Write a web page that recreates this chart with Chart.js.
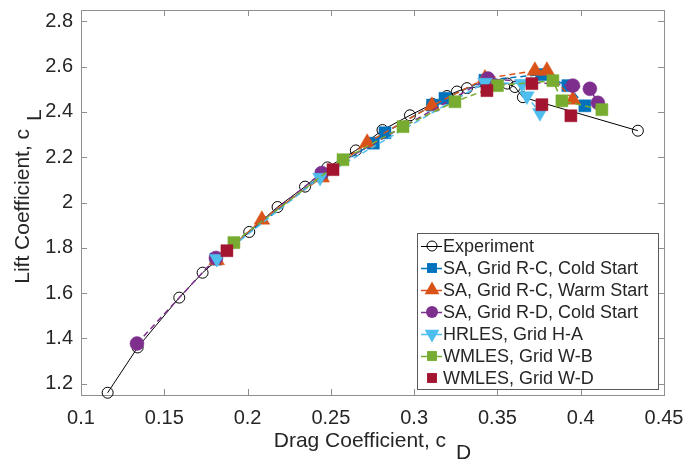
<!DOCTYPE html>
<html>
<head>
<meta charset="utf-8">
<script src="https://cdn.jsdelivr.net/npm/chart.js@4.4.0/dist/chart.umd.min.js"></script>
<style>
    html, body { margin: 0; padding: 0; background: #fff; }
    #wrap { width: 683px; height: 461px; }
</style>
</head>
<body>
<div id="wrap"><canvas id="chart" width="683" height="461"></canvas></div>
<script>
    'use strict';

    // axis ticks
    var xTicks = [0.1, 0.15, 0.2, 0.25, 0.3, 0.35, 0.4, 0.45];
    var xTickLabels = ['0.1', '0.15', '0.2', '0.25', '0.3', '0.35', '0.4', '0.45'];
    var yTicks = [1.2, 1.4, 1.6, 1.8, 2.0, 2.2, 2.4, 2.6, 2.8];
    var yTickLabels = ['1.2', '1.4', '1.6', '1.8', '2', '2.2', '2.4', '2.6', '2.8'];

    var seriesNames = [
        'Experiment',
        'SA, Grid R-C, Cold Start',
        'SA, Grid R-C, Warm Start',
        'SA, Grid R-D, Cold Start',
        'HRLES, Grid H-A',
        'WMLES, Grid W-B',
        'WMLES, Grid W-D'
    ];

    // drag (cD) / lift (cL) per series
    var expCd = [0.116, 0.134, 0.159, 0.173, 0.201, 0.218, 0.2345, 0.248, 0.265, 0.281, 0.2975, 0.311, 0.3197, 0.3257, 0.3317, 0.356, 0.3605, 0.3653, 0.4343];
    var expCl = [1.16, 1.36, 1.58, 1.69, 1.87, 1.98, 2.07, 2.155, 2.23, 2.32, 2.385, 2.435, 2.47, 2.49, 2.505, 2.525, 2.51, 2.465, 2.317];

    var rcColdCd = [0.181, 0.2445, 0.2755, 0.2825, 0.311, 0.3185, 0.3425, 0.3765, 0.3923, 0.4025];
    var rcColdCl = [1.75, 2.12, 2.262, 2.308, 2.43, 2.46, 2.54, 2.565, 2.516, 2.427];

    var rcWarmCd = [0.1815, 0.2086, 0.2445, 0.2718, 0.3107, 0.3425, 0.3725, 0.3797, 0.3953];
    var rcWarmCl = [1.745, 1.924, 2.11, 2.264, 2.427, 2.547, 2.582, 2.582, 2.454];

    var rdColdCd = [0.1336, 0.181, 0.2445, 0.3443, 0.3953, 0.4055, 0.4103];
    var rdColdCl = [1.377, 1.755, 2.13, 2.547, 2.516, 2.502, 2.44];

    var hrlesCd = [0.1816, 0.2435, 0.3425, 0.3647, 0.3677, 0.3755];
    var hrlesCl = [1.752, 2.11, 2.53, 2.525, 2.47, 2.396];

    var wmlesBCd = [0.1918, 0.2573, 0.2933, 0.3245, 0.350, 0.3833, 0.3887, 0.4127];
    var wmlesBCl = [1.823, 2.189, 2.335, 2.445, 2.516, 2.538, 2.449, 2.41];

    var wmlesDCd = [0.1876, 0.2513, 0.3437, 0.3707, 0.3767, 0.3941];
    var wmlesDCl = [1.787, 2.145, 2.494, 2.525, 2.432, 2.383];

    var TEXT_DARK = '#262626';
    var AXIS_GRAY = '#8f8f8f';
    var FONT = "'Liberation Sans', Arial, Helvetica, sans-serif";

    // marker / line look for each series (same order as seriesNames)
    var styles = [
        { color: '#000000', marker: 'circle', radius: 5.5, filled: false, line: 'solid', order: 7 },
        { color: '#0072BD', marker: 'rect', radius: 8.5, filled: true, line: 'dash', order: 6 },
        { color: '#D95319', marker: 'triangle', radius: 9, filled: true, line: 'dash', order: 5 },
        { color: '#7E2F8E', marker: 'circle', radius: 7, filled: true, line: 'dash', order: 4 },
        { color: '#4DBEEE', marker: 'triangleDown', radius: 8.5, filled: true, line: 'dash', order: 3 },
        { color: '#77AC30', marker: 'rect', radius: 8.5, filled: true, line: 'dash', order: 2 },
        { color: '#A2142F', marker: 'rect', radius: 8.5, filled: true, line: 'none', order: 1 }
    ];

    function toPoints(cd, cl) {
        return cd.map(function (v, i) { return { x: v, y: cl[i] }; });
    }

    var seriesData = [
        toPoints(expCd, expCl),
        toPoints(rcColdCd, rcColdCl),
        toPoints(rcWarmCd, rcWarmCl),
        toPoints(rdColdCd, rdColdCl),
        toPoints(hrlesCd, hrlesCl),
        toPoints(wmlesBCd, wmlesBCl),
        toPoints(wmlesDCd, wmlesDCl)
    ];

    var datasets = seriesData.map(function (pts, i) {
        var st = styles[i];
        return {
            label: seriesNames[i],
            data: pts,
            order: st.order,
            showLine: st.line !== 'none',
            borderColor: st.color,
            borderWidth: st.line === 'solid' ? 1 : 1.5,
            borderDash: st.line === 'dash' ? [6, 4] : [],
            pointStyle: st.marker === 'triangleDown' ? 'triangle' : st.marker,
            rotation: st.marker === 'triangleDown' ? 180 : 0,
            pointRadius: st.radius,
            pointBackgroundColor: st.filled ? st.color : 'rgba(0,0,0,0)',
            pointBorderColor: st.color,
            pointBorderWidth: st.filled ? 0.5 : 1,
            clip: false
        };
    });

    /**
     * Draws one marker shape, for the legend
     */
    function drawMarker(ctx, st, x, y, r) {
        ctx.beginPath();
        if (st.marker === 'circle') {
            ctx.arc(x, y, r, 0, Math.PI * 2);
        } else if (st.marker === 'rect') {
            var s = r * Math.SQRT1_2;
            ctx.rect(x - s, y - s, 2 * s, 2 * s);
        } else {
            var a = st.marker === 'triangle' ? 0 : Math.PI;
            for (var k = 0; k < 3; k++) {
                var px = x + Math.sin(a) * r;
                var py = y - Math.cos(a) * r;
                if (k === 0) { ctx.moveTo(px, py); } else { ctx.lineTo(px, py); }
                a += 2 * Math.PI / 3;
            }
            ctx.closePath();
        }
        if (st.filled) {
            ctx.fillStyle = st.color;
            ctx.fill();
        } else {
            ctx.lineWidth = 1;
            ctx.strokeStyle = st.color;
            ctx.stroke();
        }
    }

    var frameTitlesLegend = {
        id: 'frameTitlesLegend',

        beforeDatasetsDraw: function (chart) {
            var ctx = chart.ctx;
            var a = chart.chartArea;
            var xs = chart.scales.x;
            var ys = chart.scales.y;
            ctx.save();
            ctx.strokeStyle = AXIS_GRAY;
            ctx.lineWidth = 1;
            ctx.strokeRect(Math.round(a.left) + 0.5, Math.round(a.top) + 0.5,
                Math.round(a.right - a.left), Math.round(a.bottom - a.top));
            ctx.beginPath();
            xTicks.forEach(function (v) {
                var px = Math.round(xs.getPixelForValue(v)) + 0.5;
                ctx.moveTo(px, a.bottom);
                ctx.lineTo(px, a.bottom - 6);
                ctx.moveTo(px, a.top);
                ctx.lineTo(px, a.top + 6);
            });
            yTicks.forEach(function (v) {
                var py = Math.round(ys.getPixelForValue(v)) + 0.5;
                ctx.moveTo(a.left, py);
                ctx.lineTo(a.left + 6, py);
                ctx.moveTo(a.right, py);
                ctx.lineTo(a.right - 6, py);
            });
            ctx.stroke();
            ctx.restore();
        },

        afterDraw: function (chart) {
            var ctx = chart.ctx;
            var a = chart.chartArea;
            ctx.save();
            ctx.fillStyle = TEXT_DARK;
            ctx.textBaseline = 'alphabetic';
            ctx.textAlign = 'left';

            // x title with subscript
            ctx.font = '21px ' + FONT;
            var xMain = 'Drag Coefficient, c';
            var wMain = ctx.measureText(xMain).width;
            var wSub = ctx.measureText('D').width;
            var total = wMain + 10 + wSub;
            var x0 = (a.left + a.right) / 2 - total / 2;
            ctx.fillText(xMain, x0, 447);
            ctx.fillText('D', x0 + wMain + 10, 459);

            // y title, rotated
            var yMain = 'Lift Coefficient, c';
            wMain = ctx.measureText(yMain).width;
            wSub = ctx.measureText('L').width;
            total = wMain + 8 + wSub;
            ctx.save();
            ctx.translate(29, (a.top + a.bottom) / 2 + total / 2 - 6);
            ctx.rotate(-Math.PI / 2);
            ctx.fillText(yMain, 0, 0);
            ctx.fillText('L', wMain + 8, 12);
            ctx.restore();

            // legend box
            var lx = 417, ly = 233, lw = 241, lh = 156;
            ctx.fillStyle = '#ffffff';
            ctx.fillRect(lx, ly, lw, lh);
            ctx.strokeStyle = '#5a5a5a';
            ctx.lineWidth = 1;
            ctx.strokeRect(lx + 0.5, ly + 0.5, lw, lh);

            ctx.font = '18px ' + FONT;
            ctx.textBaseline = 'middle';
            seriesNames.forEach(function (name, i) {
                var st = styles[i];
                var cy = 246 + i * 22;
                if (st.line !== 'none') {
                    ctx.strokeStyle = st.color;
                    ctx.lineWidth = st.line === 'solid' ? 1 : 1.5;
                    ctx.beginPath();
                    ctx.moveTo(421, cy + 0.5);
                    ctx.lineTo(442, cy + 0.5);
                    ctx.stroke();
                }
                var r = st.marker === 'circle' ? (st.filled ? 6 : 5) :
                    (st.marker === 'rect' ? 7 : 8.5);
                drawMarker(ctx, st, 432, cy, r);
                ctx.fillStyle = TEXT_DARK;
                ctx.fillText(name, 443, cy + 1);
            });
            ctx.restore();
        }
    };

    Chart.defaults.font.family = FONT;
    Chart.defaults.color = TEXT_DARK;

    var config = {
        type: 'scatter',
        data: { datasets: datasets },
        options: {
            responsive: false,
            animation: false,
            devicePixelRatio: 1,
            layout: { padding: { top: 10, right: 19, left: 0, bottom: 0 } },
            plugins: {
                legend: { display: false },
                tooltip: { enabled: false }
            },
            scales: {
                x: {
                    type: 'linear',
                    position: 'bottom',
                    min: 0.1,
                    max: 0.45,
                    grid: { display: false, drawTicks: false },
                    border: { display: false },
                    afterBuildTicks: function (s) {
                        s.ticks = xTicks.map(function (v) { return { value: v }; });
                    },
                    afterFit: function (s) {
                        s.height = 66;
                        s.paddingLeft = 0;
                        s.paddingRight = 0;
                    },
                    ticks: {
                        padding: 11,
                        autoSkip: false,
                        maxRotation: 0,
                        color: TEXT_DARK,
                        font: { size: 20 },
                        callback: function (v, i) { return xTickLabels[i]; }
                    }
                },
                y: {
                    type: 'linear',
                    position: 'left',
                    min: 1.15,
                    max: 2.85,
                    grid: { display: false, drawTicks: false },
                    border: { display: false },
                    afterBuildTicks: function (s) {
                        s.ticks = yTicks.map(function (v) { return { value: v }; });
                    },
                    afterFit: function (s) {
                        s.width = 81;
                        s.paddingTop = 0;
                        s.paddingBottom = 0;
                    },
                    ticks: {
                        padding: 8,
                        autoSkip: false,
                        color: TEXT_DARK,
                        font: { size: 20 },
                        callback: function (v, i) { return yTickLabels[i]; }
                    }
                }
            }
        },
        plugins: [frameTitlesLegend]
    };

    new Chart(document.getElementById('chart').getContext('2d'), config);
</script>
</body>
</html>
